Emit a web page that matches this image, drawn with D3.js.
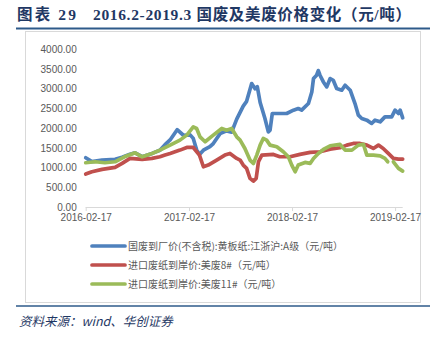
<!DOCTYPE html>
<html><head><meta charset="utf-8">
<script src="https://cdn.jsdelivr.net/npm/d3@7"></script>
<style>body{margin:0;background:#fff;} svg{display:block;}</style>
</head><body>
<svg id="c" width="439" height="340"></svg>
<script>
const xTickLabels = ["2016-02-17","2017-02-17","2018-02-17","2019-02-17"];
const yTicks = [0,500,1000,1500,2000,2500,3000,3500,4000];
const seriesNames = ["国废到厂价(不含税):黄板纸:江浙沪:A级（元/吨）","进口废纸到岸价:美废8#（元/吨）","进口废纸到岸价:美废11#（元/吨）"];

const blueDates = ["2016-02-17","2016-03-10","2016-04-15","2016-05-31","2016-06-25","2016-07-23","2016-08-10","2016-09-04","2016-10-09","2016-11-06","2016-11-24","2016-12-12","2017-01-06","2017-01-28","2017-02-21","2017-03-04","2017-03-16","2017-03-26","2017-04-09","2017-05-02","2017-05-14","2017-06-07","2017-06-30","2017-07-18","2017-08-05","2017-08-28","2017-09-09","2017-09-27","2017-10-09","2017-10-17","2017-10-27","2017-11-13","2017-11-25","2017-12-01","2017-12-09","2017-12-25","2018-01-29","2018-02-22","2018-03-11","2018-03-23","2018-04-16","2018-04-28","2018-05-04","2018-05-15","2018-05-21","2018-05-27","2018-06-08","2018-06-20","2018-07-02","2018-07-13","2018-07-25","2018-08-12","2018-08-24","2018-09-11","2018-09-28","2018-10-10","2018-10-22","2018-11-09","2018-11-26","2018-12-08","2018-12-26","2019-01-12","2019-02-05","2019-02-17","2019-03-01","2019-03-07","2019-03-16"];
const blueValues = [1250,1150,1190,1210,1260,1340,1375,1275,1360,1440,1580,1700,1960,1820,1830,1740,1450,1330,1440,1530,1610,1860,1930,1900,2230,2560,2680,3130,3000,3050,2650,2245,1906,1949,2372,2372,2372,2456,2498,2456,2625,2919,3258,3342,3460,3342,3172,3046,3258,3215,3004,2962,3089,2962,2625,2329,2245,2203,2119,2203,2160,2286,2286,2456,2372,2456,2262];

const redDates = ["2016-02-17","2016-03-10","2016-04-15","2016-05-31","2016-06-25","2016-07-23","2016-09-04","2016-10-09","2016-11-06","2016-11-24","2016-12-12","2017-01-16","2017-02-09","2017-03-04","2017-03-26","2017-04-09","2017-04-26","2017-05-26","2017-06-24","2017-07-12","2017-08-05","2017-08-17","2017-08-28","2017-09-09","2017-09-21","2017-10-03","2017-10-13","2017-10-21","2017-11-02","2017-12-13","2018-01-05","2018-02-10","2018-03-17","2018-04-22","2018-05-27","2018-07-02","2018-08-06","2018-08-30","2018-09-22","2018-10-16","2018-11-09","2018-12-02","2018-12-20","2019-01-06","2019-01-24","2019-02-11","2019-03-01","2019-03-16"];
const redValues = [835,894,953,1004,1105,1232,1207,1232,1274,1320,1359,1443,1510,1510,1316,1021,1063,1190,1316,1359,1232,1190,1063,980,727,658,727,1147,1316,1334,1274,1274,1334,1384,1401,1468,1502,1570,1612,1612,1570,1485,1570,1485,1359,1232,1215,1215];

const greenDates = ["2016-02-17","2016-03-21","2016-04-25","2016-05-31","2016-07-03","2016-08-10","2016-09-04","2016-10-09","2016-11-06","2016-12-12","2017-01-16","2017-02-09","2017-03-04","2017-03-16","2017-03-28","2017-04-15","2017-05-14","2017-06-13","2017-06-30","2017-07-18","2017-08-05","2017-08-17","2017-09-03","2017-09-21","2017-10-03","2017-10-15","2017-10-27","2017-11-07","2017-11-19","2017-12-01","2017-12-25","2018-01-17","2018-02-04","2018-02-16","2018-02-28","2018-03-11","2018-04-04","2018-04-22","2018-05-04","2018-05-21","2018-06-08","2018-07-02","2018-08-06","2018-08-24","2018-09-17","2018-10-10","2018-10-28","2018-11-09","2018-12-02","2018-12-26","2019-01-12","2019-01-22","2019-01-31","2019-02-11","2019-03-01","2019-03-16"];
const greenValues = [1122,1147,1122,1147,1274,1375,1274,1359,1443,1570,1696,1823,2033,1992,1780,1654,1823,1992,1949,1992,1780,1696,1485,1190,1105,1316,1570,1739,1696,1570,1527,1401,1274,1063,894,1063,1131,1105,1232,1359,1460,1553,1587,1443,1443,1570,1587,1316,1316,1299,1232,1147,null,1147,980,911];

const colors = ["#4f81bd","#c0504d","#9bbb59"];

const parse = d3.timeParse("%Y-%m-%d");
const svg = d3.select("#c");

// header
const tfont = "'Liberation Serif','Noto Sans CJK SC',serif";
svg.append("text").attr("x",17).attr("y",20)
  .attr("font-family",tfont).attr("font-weight","bold")
  .attr("font-size",15.5).attr("fill","#1f3864").attr("textLength",59).attr("lengthAdjust","spacing").text("图表 29");
svg.append("text").attr("x",93).attr("y",20)
  .attr("font-family",tfont).attr("font-weight","bold")
  .attr("font-size",15.5).attr("fill","#1f3864").attr("textLength",318).attr("lengthAdjust","spacing").text("2016.2-2019.3 国废及美废价格变化（元/吨）");
svg.append("line").attr("x1",16).attr("x2",430).attr("y1",28.5).attr("y2",28.5)
  .attr("stroke","#2e5a8a").attr("stroke-width",2);
svg.append("rect").attr("x",25.5).attr("y",31.5).attr("width",395).attr("height",271)
  .attr("fill","#fff").attr("stroke","#d9d9d9").attr("stroke-width",1);
svg.append("line").attr("x1",16).attr("x2",430).attr("y1",306).attr("y2",306)
  .attr("stroke","#2e5a8a").attr("stroke-width",1.5);
svg.append("text").attr("x",19).attr("y",326)
  .attr("font-family","'Noto Sans CJK SC',sans-serif").attr("font-style","italic")
  .attr("font-size",12.5).attr("fill","#1f3864").text("资料来源：wind、华创证券");

const x = d3.scaleTime().domain([parse("2016-02-17"), parse("2019-03-16")]).range([85.7, 402.7]);
const y = d3.scaleLinear().domain([0,4000]).range([207, 49.3]);

const font = "'Liberation Sans','DejaVu Sans',sans-serif";
const yAxis = svg.append("g").attr("transform","translate(85.7,0)")
  .call(d3.axisLeft(y).tickValues(yTicks).tickSize(0).tickPadding(9).tickFormat(d3.format(".2f")));
yAxis.select(".domain").remove();
yAxis.selectAll("text").attr("font-family",font).attr("font-size",10).attr("fill","#595959");

const xAxis = svg.append("g").attr("transform","translate(0,207)")
  .call(d3.axisBottom(x).tickValues(xTickLabels.map(parse)).tickSize(4).tickPadding(3).tickFormat(d3.timeFormat("%Y-%m-%d")));
xAxis.select(".domain").attr("stroke","#d9d9d9").attr("d","M85.7,0.5H402.7");
xAxis.selectAll(".tick line").attr("stroke","#d9d9d9");
xAxis.selectAll("text").attr("font-family",font).attr("font-size",10).attr("fill","#595959");

const all = [[blueDates,blueValues],[redDates,redValues],[greenDates,greenValues]];
const line = d3.line().defined(d => d.v !== null).x(d => x(d.d)).y(d => y(d.v)).curve(d3.curveLinear);
all.forEach(([ds,vs],i) => {
  const data = ds.map((s,j) => ({d: parse(s), v: vs[j]}));
  svg.append("path").datum(data).attr("d",line).attr("fill","none")
    .attr("stroke",colors[i]).attr("stroke-width",3.7).attr("stroke-linejoin","round").attr("stroke-linecap","round");
});

// legend
const lg = svg.append("g");
const rows = [246, 265, 284];
seriesNames.forEach((n,i) => {
  lg.append("line").attr("x1",92).attr("x2",125).attr("y1",rows[i]).attr("y2",rows[i])
    .attr("stroke",colors[i]).attr("stroke-width",3.7).attr("stroke-linecap","round");
  lg.append("text").attr("x",128).attr("y",rows[i]+3.5)
    .attr("font-family","'Noto Sans CJK SC',sans-serif").attr("font-size",10).attr("fill","#595959").text(n);
});
</script>
</body></html>
